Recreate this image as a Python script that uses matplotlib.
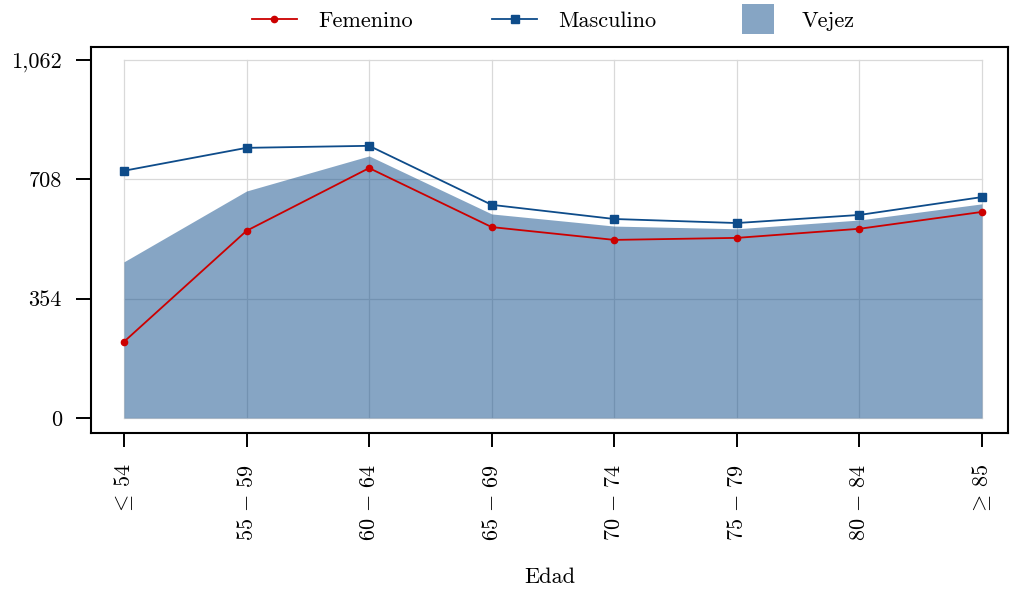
import matplotlib
matplotlib.use("Agg")
import matplotlib.pyplot as plt
from matplotlib.patches import Rectangle, Patch
from matplotlib.lines import Line2D
from matplotlib.legend_handler import HandlerPatch

plt.rcParams['font.family'] = ['cmr10', 'DejaVu Serif']
plt.rcParams['mathtext.fontset'] = 'cm'
plt.rcParams['axes.formatter.use_mathtext'] = True
plt.rcParams['axes.unicode_minus'] = False

# data
grupos = [r'$\leq\,54$', r'$55\,-\,59$', r'$60\,-\,64$', r'$65\,-\,69$',
          r'$70\,-\,74$', r'$75\,-\,79$', r'$80\,-\,84$', r'$\geq\,85$']
femenino = [226, 555, 741, 566, 528, 534, 561, 611]
masculino = [733, 801, 807, 632, 590, 578, 602, 655]
vejez = [463, 673, 777, 605, 569, 561, 587, 635]
y_ticks = [0, 354, 708, 1062]
y_labels = ['0', '354', '708', '1,062']

azul = '#0e4c8a'
rojo = '#cc0000'
fs = 16

fig = plt.figure(figsize=(10.1, 5.89), dpi=100)
ax = fig.add_axes([0.0901, 0.2649, 0.9079, 0.6553])

x = list(range(len(grupos)))

# grid only inside the data range
for xi in x:
    ax.plot([xi, xi], [0, y_ticks[-1]], color='#d9d9d9', lw=0.9, zorder=1)
for yi in y_ticks:
    ax.plot([0, x[-1]], [yi, yi], color='#d9d9d9', lw=0.9, zorder=1)

ax.fill_between(x, 0, vejez, color=azul, alpha=0.5, lw=0, zorder=2)
ax.plot(x, femenino, color=rojo, lw=1.3, marker='o', ms=4.5, zorder=3)
ax.plot(x, masculino, color=azul, lw=1.3, marker='s', ms=5.5, zorder=3)

ax.set_xlim(-0.269, 7.212)
ax.set_ylim(-44.5, 1100)
ax.set_xticks(x)
ax.set_xticklabels(grupos, rotation=90, va='top', ha='center', fontsize=fs)
ax.set_yticks(y_ticks)
ax.set_yticklabels(y_labels, fontsize=fs)
ax.tick_params(axis='y', length=11, width=1.4, direction='out', pad=10)
ax.tick_params(axis='x', length=10, width=1.4, direction='out', pad=12)
for s in ax.spines.values():
    s.set_linewidth(1.5)
ax.set_xlabel('Edad', fontsize=fs, va='center')
ax.xaxis.set_label_coords(0.5, (433 - 577) / 386)


def make_box(legend, orig_handle, xdescent, ydescent, width, height, fontsize):
    h = 21
    w = 23
    return Rectangle((width / 2 - w / 2 - xdescent, height / 2 - h / 2 - ydescent), w, h)


handles = [Line2D([], [], color=rojo, lw=1.3, marker='o', ms=4.5),
           Line2D([], [], color=azul, lw=1.3, marker='s', ms=5.5),
           Patch(facecolor=azul, alpha=0.5, lw=0)]
labels = ['Femenino', 'Masculino', 'Vejez']
fig.legend(handles, labels,
           loc='upper center', bbox_to_anchor=(0.548, 1.015), ncol=3, frameon=False,
           fontsize=fs, handlelength=2.0, columnspacing=3.6, handletextpad=0.95,
           handler_map={Patch: HandlerPatch(patch_func=make_box)})

fig.savefig('out.png', dpi=100)
